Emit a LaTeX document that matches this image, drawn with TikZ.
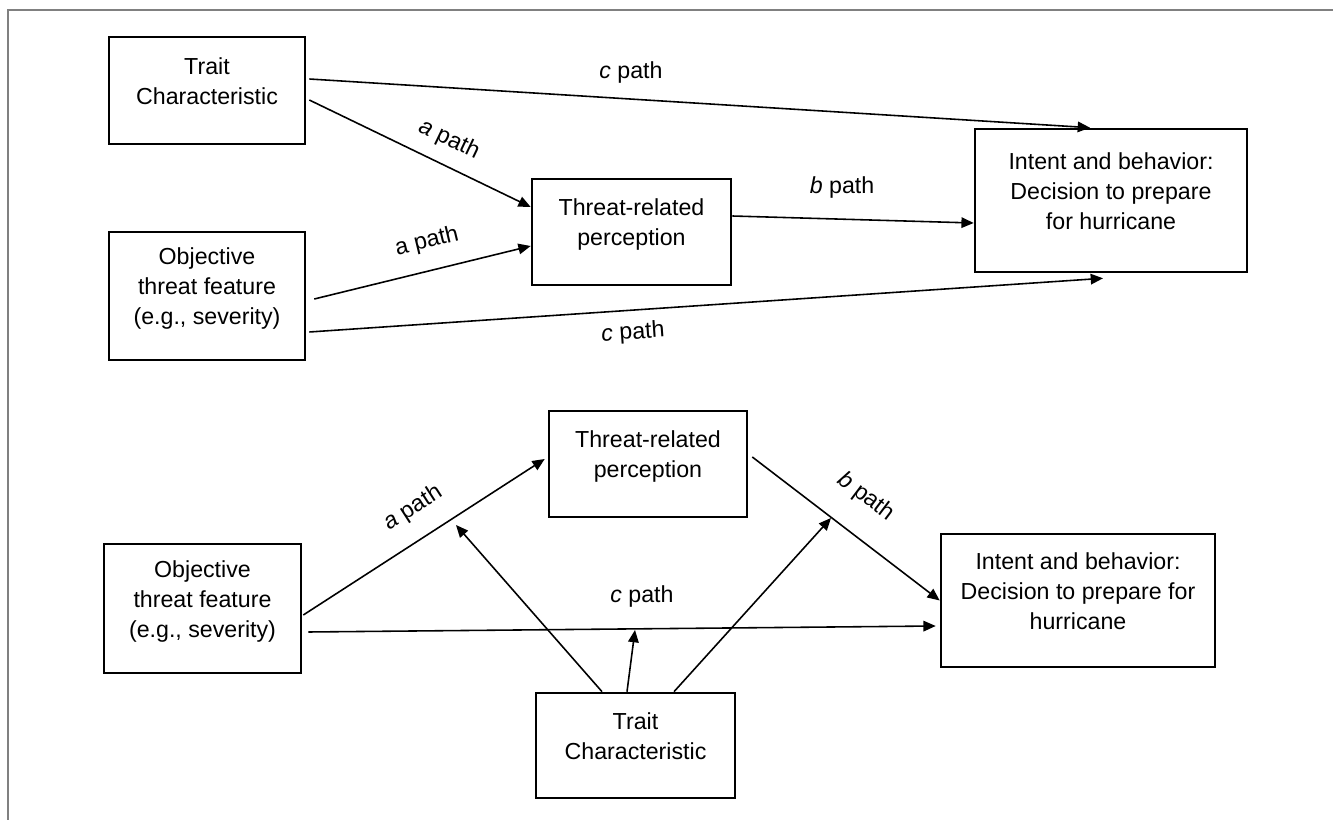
\documentclass[tikz,border=0pt]{standalone}
\usepackage{fontspec}
\setmainfont{Liberation Sans}
\usetikzlibrary{arrows.meta,calc,positioning}
\newcommand\boxlift{\\[-6pt]\mbox{}}

\begin{document}
\begin{tikzpicture}[x=0.02cm,y=-0.02cm,>={Triangle[length=7pt,width=6pt]},
  font=\fontsize{13.2}{17}\selectfont,
  box/.style={draw,line width=1.5pt,align=center,inner sep=0pt},
  link/.style={->,line width=0.9pt},
  lbl/.style={inner sep=1pt}]
  \useasboundingbox (0,0) rectangle (1333,820);
  \draw[gray,line width=0.8pt] (8,820) -- (8,10) -- (1333,10);

  % upper model
  \node[box,minimum width=3.92cm,minimum height=2.14cm] (trait1) at (207,90.5) {Trait\\Characteristic\boxlift};
  \node[box,minimum width=3.92cm,minimum height=2.56cm] (obj1) at (207,296) {Objective\\threat feature\\(e.g., severity)\boxlift};
  \node[box,minimum width=3.98cm,minimum height=2.12cm] (threat1) at (631.5,232) {Threat-related\\perception\boxlift};
  \node[box,minimum width=5.44cm,minimum height=2.86cm] (intent1) at (1111,200.5) {Intent and behavior:\\Decision to prepare\\for hurricane\boxlift};

  \draw[link] ($(trait1.east)+(3,-11.5)$) -- ($(intent1.north)+(-21,0)$);
  \node[lbl] (c1) at (631,73) {\textit{c} path};
  \draw[link] ($(trait1.east)+(3,9.5)$) -- ($(threat1.west)+(0,-25)$);
  \node[lbl,rotate=-25.5] (a1) at (449,140) {\textit{a} path};
  \draw[link] ($(obj1.east)+(8,3)$) -- ($(threat1.west)+(0,14)$);
  \node[lbl,rotate=13.6] (a2) at (427,242) {a path};
  \draw[link] ($(threat1.east)+(0,-16)$) -- ($(intent1.west)+(0,22.5)$);
  \node[lbl] (b1) at (842,188) {\textit{b} path};
  \draw[link] ($(obj1.east)+(3,36)$) -- ($(intent1.south)+(-8,5)$);
  \node[lbl,rotate=4] (c2) at (633,333) {\textit{c} path};

  % lower model
  \node[box,minimum width=3.94cm,minimum height=2.58cm] (obj2) at (202.5,608.5) {Objective\\threat feature\\(e.g., severity)\boxlift};
  \node[box,minimum width=3.96cm,minimum height=2.12cm] (threat2) at (648,464) {Threat-related\\perception\boxlift};
  \node[box,minimum width=3.98cm,minimum height=2.10cm] (trait2) at (635.5,745.5) {Trait\\Characteristic\boxlift};
  \node[box,minimum width=5.48cm,minimum height=2.66cm] (intent2) at (1078,600.5) {Intent and behavior:\\Decision to prepare for\\hurricane\boxlift};

  \draw[link] ($(obj2.east)+(1,6.5)$) -- ($(threat2.west)+(-3,-5)$);
  \node[lbl,rotate=32.8] (a3) at (413,508) {\textit{a} path};
  \draw[link] ($(obj2.east)+(6,23.5)$) -- ($(intent2.west)+(-4,25.5)$);
  \node[lbl] (c3) at (642,597) {\textit{c} path};
  \draw[link] ($(threat2.east)+(4,-7)$) -- (intent2.west);
  \node[lbl,rotate=-37] (b2) at (866,497) {\textit{b} path};

  \coordinate (ma) at (456,525);
  \coordinate (mc) at (635,630);
  \coordinate (mb) at (831,518);
  \draw[link] ($(trait2.north)+(-33.5,0)$) -- (ma);
  \draw[link] ($(trait2.north)+(-8.5,0)$) -- (mc);
  \draw[link] ($(trait2.north)+(38.5,0)$) -- (mb);
\end{tikzpicture}
\end{document}
